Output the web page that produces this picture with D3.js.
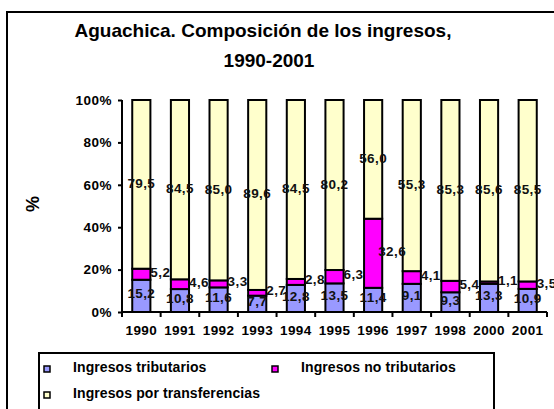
<!DOCTYPE html>
<html><head><meta charset="utf-8">
<script src="https://cdn.jsdelivr.net/npm/d3@7"></script>
<style>body{margin:0;background:#fff}svg{display:block;font-family:"Liberation Sans",Arial,sans-serif;font-weight:bold}</style>
</head><body><svg id="c" width="554" height="409"></svg>
<script>
const years = ["1990","1991","1992","1993","1994","1995","1996","1997","1998","2000","2001"];
const tributarios = [15.2,10.8,11.6,7.7,12.8,13.5,11.4,9.1,9.3,13.3,10.9];
const noTributarios = [5.2,4.6,3.3,2.7,2.8,6.3,32.6,4.1,5.4,1.1,3.5];
const transferencias = [79.5,84.5,85.0,89.6,84.5,80.2,56.0,55.3,85.3,85.6,85.5];
const seriesNames = ["Ingresos tributarios","Ingresos no tributarios","Ingresos por transferencias"];
const seriesKeys = ["trib","notrib","transf"];
const colors = ["#9999FF","#FF00FF","#FFFFCC"];
const yTicks = [0,0.2,0.4,0.6,0.8,1];

const rows = years.map((y,i)=>({year:y, trib:tributarios[i], notrib:noTributarios[i], transf:transferencias[i]}));
const stack = d3.stack().keys(seriesKeys).offset(d3.stackOffsetExpand)(rows);

const svg = d3.select("#c");
svg.append("rect").attr("width",554).attr("height",409).attr("fill","#fff");
svg.append("rect").attr("x",7).attr("y",12).attr("width",600).attr("height",500)
  .attr("fill","none").attr("stroke","#000").attr("stroke-width",2);

svg.append("text").attr("x",263).attr("y",37).attr("text-anchor","middle").attr("font-size",19)
  .text("Aguachica. Composición de los ingresos,");
svg.append("text").attr("x",269).attr("y",67).attr("text-anchor","middle").attr("font-size",19)
  .text("1990-2001");

const x0=122,x1=547,yTop=100,yBot=312;
const x = d3.scaleBand().domain(years).range([x0,x1]).paddingInner(0.53).paddingOuter(0.265);
const y = d3.scaleLinear().domain([0,1]).range([yBot,yTop]);

const g = svg.append("g");
stack.forEach((s,si)=>{
  g.selectAll(null).data(s).enter().append("rect")
    .attr("x",d=>x(d.data.year)).attr("width",x.bandwidth())
    .attr("y",d=>y(d[1])).attr("height",d=>y(d[0])-y(d[1]))
    .attr("fill",colors[si]).attr("stroke","#000").attr("stroke-width",2);
});

// axes
const yAxis = d3.axisLeft(y).tickValues(yTicks).tickFormat(d3.format(".0%")).tickSize(4).tickPadding(6);
const ya = svg.append("g").attr("transform",`translate(${x0},0)`).call(yAxis);
ya.select(".domain").attr("stroke-width",2).attr("d",`M0,${yTop}V${yBot}`);
ya.selectAll(".tick line").attr("stroke-width",2);
ya.selectAll("text").attr("font-size",13.5).attr("letter-spacing",0.5).attr("font-family",null).attr("fill","#000");

const xa = svg.append("g").attr("transform",`translate(0,${yBot})`).call(d3.axisBottom(x).tickSize(0).tickPadding(13));
xa.select(".domain").attr("stroke-width",2).attr("d",`M${x0},0H${x1}`);
xa.selectAll("text").attr("font-size",13.5).attr("letter-spacing",0.4).attr("font-family",null).attr("fill","#000");
const step = x.step();
xa.selectAll(null).data(d3.range(years.length+1)).enter().append("line")
  .attr("x1",i=>x0+i*step).attr("x2",i=>x0+i*step).attr("y1",0).attr("y2",5)
  .attr("stroke","#000").attr("stroke-width",2);

svg.append("text").attr("transform","translate(39,204) rotate(-90)").attr("text-anchor","middle")
  .attr("font-size",18).text("%");

// labels
const fmt = v=>d3.format(".1f")(v).replace(".",",");
const offs = [[0,-2],[19,-2],[0,-1]];
stack.forEach((s,si)=>{
  g.selectAll(null).data(s).enter().append("text")
    .attr("x",d=>x(d.data.year)+x.bandwidth()/2+offs[si][0])
    .attr("y",d=>(y(d[0])+y(d[1]))/2+offs[si][1])
    .attr("text-anchor","middle").attr("dominant-baseline","central")
    .attr("font-size",13.5).attr("letter-spacing",0.4).attr("fill","#111")
    .text(d=>fmt(d.data[seriesKeys[si]]));
});

// legend
svg.append("rect").attr("x",39).attr("y",353).attr("width",455).attr("height",120)
  .attr("fill","#fff").attr("stroke","#000").attr("stroke-width",2);
const legPos = [[44,369],[272,369],[44,395]];
seriesNames.forEach((n,i)=>{
  svg.append("rect").attr("x",legPos[i][0]).attr("y",legPos[i][1]-3).attr("width",6).attr("height",6)
    .attr("fill",colors[i]).attr("stroke","#000").attr("stroke-width",1.5);
  svg.append("text").attr("x",legPos[i][0]+29).attr("y",legPos[i][1]+3).attr("font-size",14)
    .attr("letter-spacing",0.1).text(n);
});
</script></body></html>
